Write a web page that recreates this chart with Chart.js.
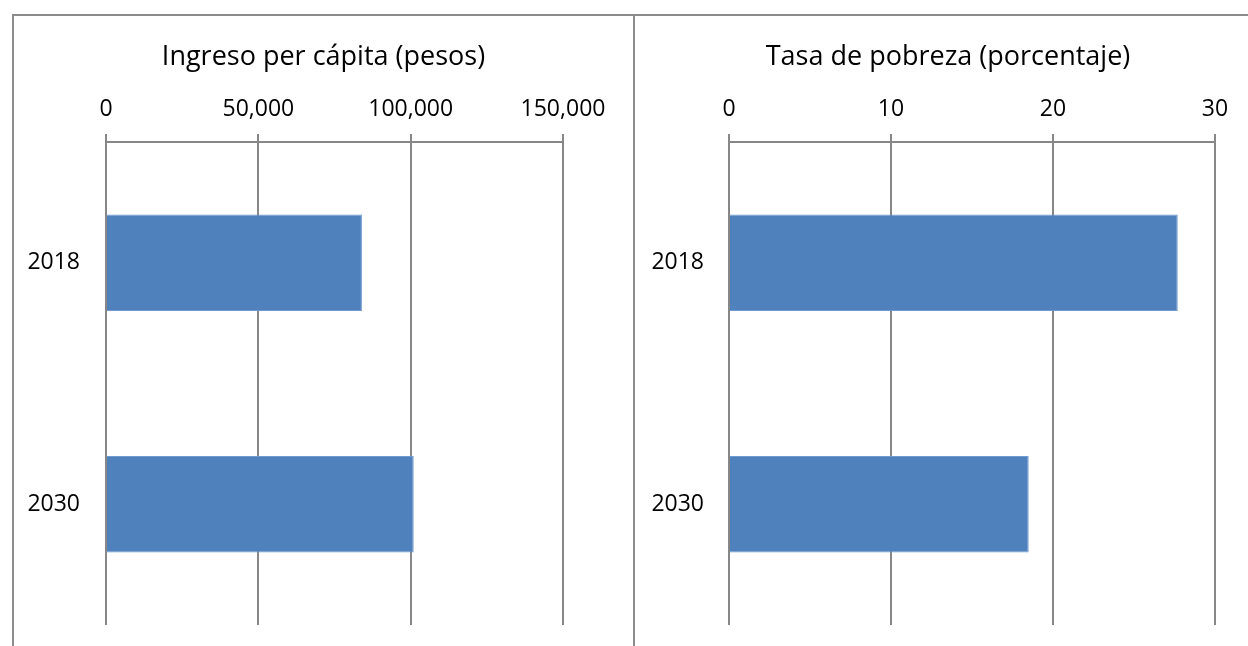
<!DOCTYPE html>
<html>
<head>
<meta charset="utf-8">
<script src="https://cdn.jsdelivr.net/npm/chart.js@4/dist/chart.umd.min.js"></script>
<style>
    html, body { margin: 0; padding: 0; background: #fff; overflow: hidden; }
    .panel { position: absolute; top: 14px; height: 632px; border-top: 2px solid #8c8c8c; box-sizing: border-box; }
    #leftPanel { left: 12px; width: 623px; border-left: 2px solid #8c8c8c; border-right: 2px solid #8c8c8c; }
    #rightPanel { left: 635px; width: 626px; }
    canvas { display: block; }
</style>
</head>
<body>
<div class="panel" id="leftPanel"><canvas id="ingresoChart" width="619" height="630"></canvas></div>
<div class="panel" id="rightPanel"><canvas id="pobrezaChart" width="626" height="630"></canvas></div>
<script>
const years = ['2018', '2030'];
const ingresoValues = [84000, 101000];
const pobrezaValues = [27.7, 18.5];
const ingresoTicks = [0, 50000, 100000, 150000];
const pobrezaTicks = [0, 10, 20, 30];

const gridColor = '#878787';
const barColor = '#4f81bd';
const fontFamily = "'Open Sans', 'Noto Sans', sans-serif";

// yWidth = width of the category axis, padRight = gap between plot and canvas edge
function makeBarChart(canvasId, title, values, ticks, yWidth, yPad, padRight) {
    const ctx = document.getElementById(canvasId);
    return new Chart(ctx, {
        type: 'bar',
        data: {
            labels: years,
            datasets: [{
                data: values,
                backgroundColor: barColor,
                borderColor: '#6f9bd0',
                borderWidth: 1,
                categoryPercentage: 0.8,
                barPercentage: 0.5
            }]
        },
        options: {
            indexAxis: 'y',
            responsive: false,
            animation: false,
            layout: { padding: 0 },
            plugins: {
                legend: { display: false },
                tooltip: { enabled: false },
                title: {
                    display: true,
                    text: title,
                    color: '#000',
                    font: { family: fontFamily, size: 27, weight: 'normal' },
                    padding: { top: 25, bottom: 0 }
                }
            },
            scales: {
                x: {
                    position: 'top',
                    min: ticks[0],
                    max: ticks[ticks.length - 1],
                    afterBuildTicks: scale => { scale.ticks = ticks.map(v => ({ value: v })); },
                    afterFit: scale => {
                        scale.height = 68.6;
                        scale.paddingRight = padRight;
                        scale.paddingLeft = 0;
                    },
                    ticks: {
                        color: '#000',
                        padding: 11,
                        maxRotation: 0,
                        font: { family: fontFamily, size: 23 },
                        callback: v => v.toLocaleString('en-US')
                    },
                    grid: { color: gridColor, lineWidth: 2, drawTicks: true, tickLength: 8 },
                    border: { display: true, color: gridColor, width: 2 }
                },
                y: {
                    afterFit: scale => {
                        scale.width = yWidth;
                        scale.paddingTop = 0;
                        scale.paddingBottom = 21;
                    },
                    ticks: {
                        color: '#000',
                        padding: yPad,
                        font: { family: fontFamily, size: 23 }
                    },
                    grid: { display: false },
                    border: { display: false }
                }
            }
        }
    });
}

makeBarChart('ingresoChart', 'Ingreso per cápita (pesos)', ingresoValues, ingresoTicks, 92, 18, 70);
makeBarChart('pobrezaChart', 'Tasa de pobreza (porcentaje)', pobrezaValues, pobrezaTicks, 94, 17, 46);
</script>
</body>
</html>
